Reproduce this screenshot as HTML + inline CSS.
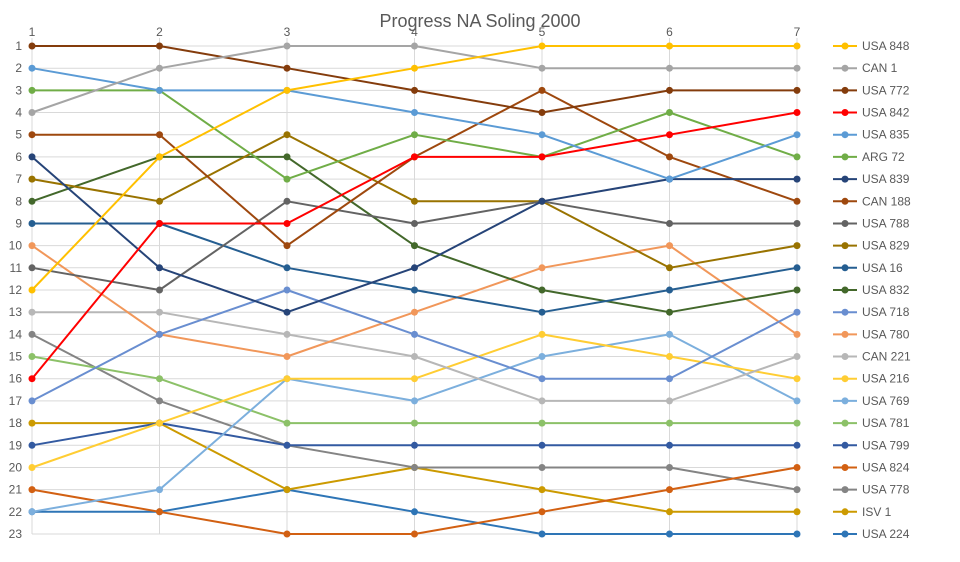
<!DOCTYPE html>
<html><head><meta charset="utf-8"><style>body{margin:0;background:#fff}svg{display:block;font-family:"Liberation Sans",sans-serif}</style></head><body>
<svg width="960" height="562" viewBox="0 0 960 562">
<rect width="960" height="562" fill="#fff"/>
<text x="480" y="27" text-anchor="middle" font-size="18" fill="#595959">Progress NA Soling 2000</text>
<g stroke="#D9D9D9" stroke-width="1">
<line x1="32" y1="46" x2="797" y2="46"/><line x1="32" y1="68.2" x2="797" y2="68.2"/><line x1="32" y1="90.4" x2="797" y2="90.4"/><line x1="32" y1="112.5" x2="797" y2="112.5"/><line x1="32" y1="134.7" x2="797" y2="134.7"/><line x1="32" y1="156.9" x2="797" y2="156.9"/><line x1="32" y1="179.1" x2="797" y2="179.1"/><line x1="32" y1="201.3" x2="797" y2="201.3"/><line x1="32" y1="223.5" x2="797" y2="223.5"/><line x1="32" y1="245.6" x2="797" y2="245.6"/><line x1="32" y1="267.8" x2="797" y2="267.8"/><line x1="32" y1="290" x2="797" y2="290"/><line x1="32" y1="312.2" x2="797" y2="312.2"/><line x1="32" y1="334.4" x2="797" y2="334.4"/><line x1="32" y1="356.5" x2="797" y2="356.5"/><line x1="32" y1="378.7" x2="797" y2="378.7"/><line x1="32" y1="400.9" x2="797" y2="400.9"/><line x1="32" y1="423.1" x2="797" y2="423.1"/><line x1="32" y1="445.3" x2="797" y2="445.3"/><line x1="32" y1="467.5" x2="797" y2="467.5"/><line x1="32" y1="489.6" x2="797" y2="489.6"/><line x1="32" y1="511.8" x2="797" y2="511.8"/><line x1="32" y1="534" x2="797" y2="534"/>
<line x1="32" y1="38" x2="32" y2="534"/><line x1="159.5" y1="38" x2="159.5" y2="534"/><line x1="287" y1="38" x2="287" y2="534"/><line x1="414.5" y1="38" x2="414.5" y2="534"/><line x1="542" y1="38" x2="542" y2="534"/><line x1="669.5" y1="38" x2="669.5" y2="534"/><line x1="797" y1="38" x2="797" y2="534"/>
</g>
<g font-size="12" fill="#595959" text-anchor="middle">
<text x="32" y="36">1</text><text x="159.5" y="36">2</text><text x="287" y="36">3</text><text x="414.5" y="36">4</text><text x="542" y="36">5</text><text x="669.5" y="36">6</text><text x="797" y="36">7</text>
</g>
<g font-size="12" fill="#595959" text-anchor="end">
<text x="22" y="50">1</text><text x="22" y="72.2">2</text><text x="22" y="94.4">3</text><text x="22" y="116.5">4</text><text x="22" y="138.7">5</text><text x="22" y="160.9">6</text><text x="22" y="183.1">7</text><text x="22" y="205.3">8</text><text x="22" y="227.5">9</text><text x="22" y="249.6">10</text><text x="22" y="271.8">11</text><text x="22" y="294">12</text><text x="22" y="316.2">13</text><text x="22" y="338.4">14</text><text x="22" y="360.5">15</text><text x="22" y="382.7">16</text><text x="22" y="404.9">17</text><text x="22" y="427.1">18</text><text x="22" y="449.3">19</text><text x="22" y="471.5">20</text><text x="22" y="493.6">21</text><text x="22" y="515.8">22</text><text x="22" y="538">23</text>
</g>
<defs>
<marker id="m1" markerWidth="8" markerHeight="8" refX="4" refY="4" markerUnits="userSpaceOnUse"><circle cx="4" cy="4" r="3.5" fill="#FFC000"/></marker>
<marker id="m2" markerWidth="8" markerHeight="8" refX="4" refY="4" markerUnits="userSpaceOnUse"><circle cx="4" cy="4" r="3.5" fill="#A5A5A5"/></marker>
<marker id="m3" markerWidth="8" markerHeight="8" refX="4" refY="4" markerUnits="userSpaceOnUse"><circle cx="4" cy="4" r="3.5" fill="#843C0C"/></marker>
<marker id="m4" markerWidth="8" markerHeight="8" refX="4" refY="4" markerUnits="userSpaceOnUse"><circle cx="4" cy="4" r="3.5" fill="#FF0000"/></marker>
<marker id="m5" markerWidth="8" markerHeight="8" refX="4" refY="4" markerUnits="userSpaceOnUse"><circle cx="4" cy="4" r="3.5" fill="#5B9BD5"/></marker>
<marker id="m6" markerWidth="8" markerHeight="8" refX="4" refY="4" markerUnits="userSpaceOnUse"><circle cx="4" cy="4" r="3.5" fill="#70AD47"/></marker>
<marker id="m7" markerWidth="8" markerHeight="8" refX="4" refY="4" markerUnits="userSpaceOnUse"><circle cx="4" cy="4" r="3.5" fill="#264478"/></marker>
<marker id="m8" markerWidth="8" markerHeight="8" refX="4" refY="4" markerUnits="userSpaceOnUse"><circle cx="4" cy="4" r="3.5" fill="#9E480E"/></marker>
<marker id="m9" markerWidth="8" markerHeight="8" refX="4" refY="4" markerUnits="userSpaceOnUse"><circle cx="4" cy="4" r="3.5" fill="#636363"/></marker>
<marker id="m10" markerWidth="8" markerHeight="8" refX="4" refY="4" markerUnits="userSpaceOnUse"><circle cx="4" cy="4" r="3.5" fill="#997300"/></marker>
<marker id="m11" markerWidth="8" markerHeight="8" refX="4" refY="4" markerUnits="userSpaceOnUse"><circle cx="4" cy="4" r="3.5" fill="#255E91"/></marker>
<marker id="m12" markerWidth="8" markerHeight="8" refX="4" refY="4" markerUnits="userSpaceOnUse"><circle cx="4" cy="4" r="3.5" fill="#43682B"/></marker>
<marker id="m13" markerWidth="8" markerHeight="8" refX="4" refY="4" markerUnits="userSpaceOnUse"><circle cx="4" cy="4" r="3.5" fill="#698ED0"/></marker>
<marker id="m14" markerWidth="8" markerHeight="8" refX="4" refY="4" markerUnits="userSpaceOnUse"><circle cx="4" cy="4" r="3.5" fill="#F1975A"/></marker>
<marker id="m15" markerWidth="8" markerHeight="8" refX="4" refY="4" markerUnits="userSpaceOnUse"><circle cx="4" cy="4" r="3.5" fill="#B7B7B7"/></marker>
<marker id="m16" markerWidth="8" markerHeight="8" refX="4" refY="4" markerUnits="userSpaceOnUse"><circle cx="4" cy="4" r="3.5" fill="#FFCD33"/></marker>
<marker id="m17" markerWidth="8" markerHeight="8" refX="4" refY="4" markerUnits="userSpaceOnUse"><circle cx="4" cy="4" r="3.5" fill="#7CAFDD"/></marker>
<marker id="m18" markerWidth="8" markerHeight="8" refX="4" refY="4" markerUnits="userSpaceOnUse"><circle cx="4" cy="4" r="3.5" fill="#8CC168"/></marker>
<marker id="m19" markerWidth="8" markerHeight="8" refX="4" refY="4" markerUnits="userSpaceOnUse"><circle cx="4" cy="4" r="3.5" fill="#335AA1"/></marker>
<marker id="m20" markerWidth="8" markerHeight="8" refX="4" refY="4" markerUnits="userSpaceOnUse"><circle cx="4" cy="4" r="3.5" fill="#D26012"/></marker>
<marker id="m21" markerWidth="8" markerHeight="8" refX="4" refY="4" markerUnits="userSpaceOnUse"><circle cx="4" cy="4" r="3.5" fill="#848484"/></marker>
<marker id="m22" markerWidth="8" markerHeight="8" refX="4" refY="4" markerUnits="userSpaceOnUse"><circle cx="4" cy="4" r="3.5" fill="#CC9A00"/></marker>
<marker id="m23" markerWidth="8" markerHeight="8" refX="4" refY="4" markerUnits="userSpaceOnUse"><circle cx="4" cy="4" r="3.5" fill="#2E75B6"/></marker>
</defs>
<g fill="none" stroke-width="2" stroke-linejoin="round">
<polyline stroke="#2E75B6" marker-start="url(#m23)" marker-mid="url(#m23)" marker-end="url(#m23)" points="32,511.8 159.5,511.8 287,489.6 414.5,511.8 542,534 669.5,534 797,534"/>
<polyline stroke="#CC9A00" marker-start="url(#m22)" marker-mid="url(#m22)" marker-end="url(#m22)" points="32,423.1 159.5,423.1 287,489.6 414.5,467.5 542,489.6 669.5,511.8 797,511.8"/>
<polyline stroke="#848484" marker-start="url(#m21)" marker-mid="url(#m21)" marker-end="url(#m21)" points="32,334.4 159.5,400.9 287,445.3 414.5,467.5 542,467.5 669.5,467.5 797,489.6"/>
<polyline stroke="#D26012" marker-start="url(#m20)" marker-mid="url(#m20)" marker-end="url(#m20)" points="32,489.6 159.5,511.8 287,534 414.5,534 542,511.8 669.5,489.6 797,467.5"/>
<polyline stroke="#335AA1" marker-start="url(#m19)" marker-mid="url(#m19)" marker-end="url(#m19)" points="32,445.3 159.5,423.1 287,445.3 414.5,445.3 542,445.3 669.5,445.3 797,445.3"/>
<polyline stroke="#8CC168" marker-start="url(#m18)" marker-mid="url(#m18)" marker-end="url(#m18)" points="32,356.5 159.5,378.7 287,423.1 414.5,423.1 542,423.1 669.5,423.1 797,423.1"/>
<polyline stroke="#7CAFDD" marker-start="url(#m17)" marker-mid="url(#m17)" marker-end="url(#m17)" points="32,511.8 159.5,489.6 287,378.7 414.5,400.9 542,356.5 669.5,334.4 797,400.9"/>
<polyline stroke="#FFCD33" marker-start="url(#m16)" marker-mid="url(#m16)" marker-end="url(#m16)" points="32,467.5 159.5,423.1 287,378.7 414.5,378.7 542,334.4 669.5,356.5 797,378.7"/>
<polyline stroke="#B7B7B7" marker-start="url(#m15)" marker-mid="url(#m15)" marker-end="url(#m15)" points="32,312.2 159.5,312.2 287,334.4 414.5,356.5 542,400.9 669.5,400.9 797,356.5"/>
<polyline stroke="#F1975A" marker-start="url(#m14)" marker-mid="url(#m14)" marker-end="url(#m14)" points="32,245.6 159.5,334.4 287,356.5 414.5,312.2 542,267.8 669.5,245.6 797,334.4"/>
<polyline stroke="#698ED0" marker-start="url(#m13)" marker-mid="url(#m13)" marker-end="url(#m13)" points="32,400.9 159.5,334.4 287,290 414.5,334.4 542,378.7 669.5,378.7 797,312.2"/>
<polyline stroke="#43682B" marker-start="url(#m12)" marker-mid="url(#m12)" marker-end="url(#m12)" points="32,201.3 159.5,156.9 287,156.9 414.5,245.6 542,290 669.5,312.2 797,290"/>
<polyline stroke="#255E91" marker-start="url(#m11)" marker-mid="url(#m11)" marker-end="url(#m11)" points="32,223.5 159.5,223.5 287,267.8 414.5,290 542,312.2 669.5,290 797,267.8"/>
<polyline stroke="#997300" marker-start="url(#m10)" marker-mid="url(#m10)" marker-end="url(#m10)" points="32,179.1 159.5,201.3 287,134.7 414.5,201.3 542,201.3 669.5,267.8 797,245.6"/>
<polyline stroke="#636363" marker-start="url(#m9)" marker-mid="url(#m9)" marker-end="url(#m9)" points="32,267.8 159.5,290 287,201.3 414.5,223.5 542,201.3 669.5,223.5 797,223.5"/>
<polyline stroke="#9E480E" marker-start="url(#m8)" marker-mid="url(#m8)" marker-end="url(#m8)" points="32,134.7 159.5,134.7 287,245.6 414.5,156.9 542,90.4 669.5,156.9 797,201.3"/>
<polyline stroke="#264478" marker-start="url(#m7)" marker-mid="url(#m7)" marker-end="url(#m7)" points="32,156.9 159.5,267.8 287,312.2 414.5,267.8 542,201.3 669.5,179.1 797,179.1"/>
<polyline stroke="#70AD47" marker-start="url(#m6)" marker-mid="url(#m6)" marker-end="url(#m6)" points="32,90.4 159.5,90.4 287,179.1 414.5,134.7 542,156.9 669.5,112.5 797,156.9"/>
<polyline stroke="#5B9BD5" marker-start="url(#m5)" marker-mid="url(#m5)" marker-end="url(#m5)" points="32,68.2 159.5,90.4 287,90.4 414.5,112.5 542,134.7 669.5,179.1 797,134.7"/>
<polyline stroke="#FF0000" marker-start="url(#m4)" marker-mid="url(#m4)" marker-end="url(#m4)" points="32,378.7 159.5,223.5 287,223.5 414.5,156.9 542,156.9 669.5,134.7 797,112.5"/>
<polyline stroke="#843C0C" marker-start="url(#m3)" marker-mid="url(#m3)" marker-end="url(#m3)" points="32,46 159.5,46 287,68.2 414.5,90.4 542,112.5 669.5,90.4 797,90.4"/>
<polyline stroke="#A5A5A5" marker-start="url(#m2)" marker-mid="url(#m2)" marker-end="url(#m2)" points="32,112.5 159.5,68.2 287,46 414.5,46 542,68.2 669.5,68.2 797,68.2"/>
<polyline stroke="#FFC000" marker-start="url(#m1)" marker-mid="url(#m1)" marker-end="url(#m1)" points="32,290 159.5,156.9 287,90.4 414.5,68.2 542,46 669.5,46 797,46"/>
</g>
<g stroke-width="2">
<line x1="833" x2="857" y1="46" y2="46" stroke="#FFC000"/><circle cx="845" cy="46" r="3.5" fill="#FFC000"/>
<line x1="833" x2="857" y1="68.2" y2="68.2" stroke="#A5A5A5"/><circle cx="845" cy="68.2" r="3.5" fill="#A5A5A5"/>
<line x1="833" x2="857" y1="90.4" y2="90.4" stroke="#843C0C"/><circle cx="845" cy="90.4" r="3.5" fill="#843C0C"/>
<line x1="833" x2="857" y1="112.5" y2="112.5" stroke="#FF0000"/><circle cx="845" cy="112.5" r="3.5" fill="#FF0000"/>
<line x1="833" x2="857" y1="134.7" y2="134.7" stroke="#5B9BD5"/><circle cx="845" cy="134.7" r="3.5" fill="#5B9BD5"/>
<line x1="833" x2="857" y1="156.9" y2="156.9" stroke="#70AD47"/><circle cx="845" cy="156.9" r="3.5" fill="#70AD47"/>
<line x1="833" x2="857" y1="179.1" y2="179.1" stroke="#264478"/><circle cx="845" cy="179.1" r="3.5" fill="#264478"/>
<line x1="833" x2="857" y1="201.3" y2="201.3" stroke="#9E480E"/><circle cx="845" cy="201.3" r="3.5" fill="#9E480E"/>
<line x1="833" x2="857" y1="223.5" y2="223.5" stroke="#636363"/><circle cx="845" cy="223.5" r="3.5" fill="#636363"/>
<line x1="833" x2="857" y1="245.6" y2="245.6" stroke="#997300"/><circle cx="845" cy="245.6" r="3.5" fill="#997300"/>
<line x1="833" x2="857" y1="267.8" y2="267.8" stroke="#255E91"/><circle cx="845" cy="267.8" r="3.5" fill="#255E91"/>
<line x1="833" x2="857" y1="290" y2="290" stroke="#43682B"/><circle cx="845" cy="290" r="3.5" fill="#43682B"/>
<line x1="833" x2="857" y1="312.2" y2="312.2" stroke="#698ED0"/><circle cx="845" cy="312.2" r="3.5" fill="#698ED0"/>
<line x1="833" x2="857" y1="334.4" y2="334.4" stroke="#F1975A"/><circle cx="845" cy="334.4" r="3.5" fill="#F1975A"/>
<line x1="833" x2="857" y1="356.5" y2="356.5" stroke="#B7B7B7"/><circle cx="845" cy="356.5" r="3.5" fill="#B7B7B7"/>
<line x1="833" x2="857" y1="378.7" y2="378.7" stroke="#FFCD33"/><circle cx="845" cy="378.7" r="3.5" fill="#FFCD33"/>
<line x1="833" x2="857" y1="400.9" y2="400.9" stroke="#7CAFDD"/><circle cx="845" cy="400.9" r="3.5" fill="#7CAFDD"/>
<line x1="833" x2="857" y1="423.1" y2="423.1" stroke="#8CC168"/><circle cx="845" cy="423.1" r="3.5" fill="#8CC168"/>
<line x1="833" x2="857" y1="445.3" y2="445.3" stroke="#335AA1"/><circle cx="845" cy="445.3" r="3.5" fill="#335AA1"/>
<line x1="833" x2="857" y1="467.5" y2="467.5" stroke="#D26012"/><circle cx="845" cy="467.5" r="3.5" fill="#D26012"/>
<line x1="833" x2="857" y1="489.6" y2="489.6" stroke="#848484"/><circle cx="845" cy="489.6" r="3.5" fill="#848484"/>
<line x1="833" x2="857" y1="511.8" y2="511.8" stroke="#CC9A00"/><circle cx="845" cy="511.8" r="3.5" fill="#CC9A00"/>
<line x1="833" x2="857" y1="534" y2="534" stroke="#2E75B6"/><circle cx="845" cy="534" r="3.5" fill="#2E75B6"/>
</g>
<g font-size="12" fill="#595959">
<text x="862" y="50">USA 848</text><text x="862" y="72.2">CAN 1</text><text x="862" y="94.4">USA 772</text><text x="862" y="116.5">USA 842</text><text x="862" y="138.7">USA 835</text><text x="862" y="160.9">ARG 72</text><text x="862" y="183.1">USA 839</text><text x="862" y="205.3">CAN 188</text><text x="862" y="227.5">USA 788</text><text x="862" y="249.6">USA 829</text><text x="862" y="271.8">USA 16</text><text x="862" y="294">USA 832</text><text x="862" y="316.2">USA 718</text><text x="862" y="338.4">USA 780</text><text x="862" y="360.5">CAN 221</text><text x="862" y="382.7">USA 216</text><text x="862" y="404.9">USA 769</text><text x="862" y="427.1">USA 781</text><text x="862" y="449.3">USA 799</text><text x="862" y="471.5">USA 824</text><text x="862" y="493.6">USA 778</text><text x="862" y="515.8">ISV 1</text><text x="862" y="538">USA 224</text>
</g>
</svg>
</body></html>
